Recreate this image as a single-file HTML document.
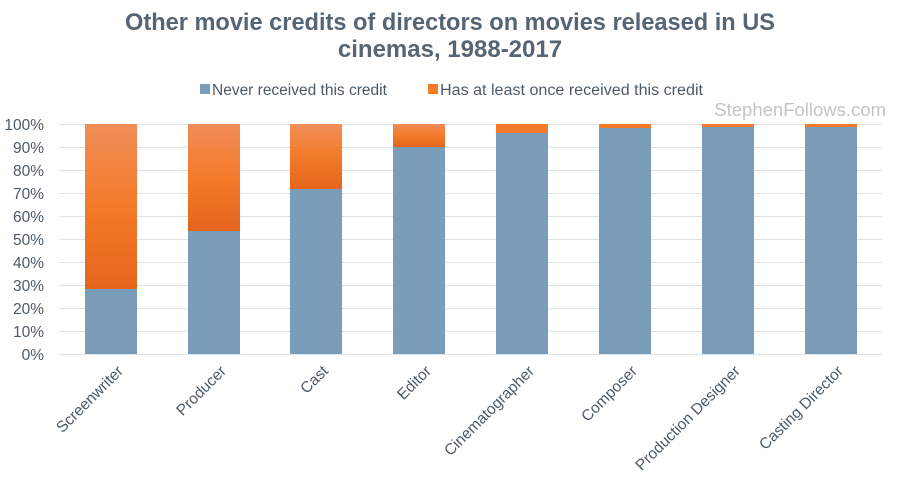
<!DOCTYPE html>
<html><head><meta charset="utf-8"><style>
body{margin:0;background:#fff;}
svg{display:block;font-family:"Liberation Sans",sans-serif;}
</style></head><body>
<svg width="900" height="490" viewBox="0 0 900 490">
<defs>
<linearGradient id="og" x1="0" y1="0" x2="0" y2="1">
<stop offset="0" stop-color="#f08d58"/><stop offset="0.5" stop-color="#f47b2a"/><stop offset="1" stop-color="#e4661c"/>
</linearGradient>
</defs>
<text x="450" y="30" text-anchor="middle" font-size="24" font-weight="bold" fill="#566573" textLength="650" lengthAdjust="spacingAndGlyphs">Other movie credits of directors on movies released in US</text>
<text x="450" y="57" text-anchor="middle" font-size="24" font-weight="bold" fill="#566573">cinemas, 1988-2017</text>
<rect x="200" y="84" width="10" height="10" fill="#7a9dba"/>
<text x="212" y="95" font-size="15.5" fill="#4b5a68">Never received this credit</text>
<rect x="428" y="84" width="10" height="10" fill="#f47b2a"/>
<text x="440" y="95" font-size="15.5" fill="#4b5a68" textLength="263" lengthAdjust="spacingAndGlyphs">Has at least once received this credit</text>
<text x="886" y="116" text-anchor="end" font-size="18.5" fill="#c4c4c4">StephenFollows.com</text>
<g stroke="#dde1e8" stroke-width="1">
<line x1="59" x2="882" y1="124.5" y2="124.5"/><line x1="59" x2="882" y1="147.5" y2="147.5"/>
<line x1="59" x2="882" y1="170.5" y2="170.5"/><line x1="59" x2="882" y1="193.5" y2="193.5"/>
<line x1="59" x2="882" y1="216.5" y2="216.5"/><line x1="59" x2="882" y1="239.5" y2="239.5"/>
<line x1="59" x2="882" y1="262.5" y2="262.5"/><line x1="59" x2="882" y1="285.5" y2="285.5"/>
<line x1="59" x2="882" y1="308.5" y2="308.5"/><line x1="59" x2="882" y1="331.5" y2="331.5"/>
<line x1="59" x2="882" y1="354.5" y2="354.5"/>
</g>
<g font-size="15.5" fill="#4b5a68" text-anchor="end">
<text x="44" y="130">100%</text><text x="44" y="153">90%</text><text x="44" y="176">80%</text>
<text x="44" y="199">70%</text><text x="44" y="222">60%</text><text x="44" y="245">50%</text>
<text x="44" y="268">40%</text><text x="44" y="291">30%</text><text x="44" y="314">20%</text>
<text x="44" y="337">10%</text><text x="44" y="360">0%</text>
</g>
<g>
<rect x="85" y="124" width="52" height="165" fill="url(#og)"/><rect x="85" y="289" width="52" height="65" fill="#7a9dba"/>
<rect x="188" y="124" width="52" height="107" fill="url(#og)"/><rect x="188" y="231" width="52" height="123" fill="#7a9dba"/>
<rect x="290" y="124" width="52" height="65" fill="url(#og)"/><rect x="290" y="189" width="52" height="165" fill="#7a9dba"/>
<rect x="393" y="124" width="52" height="23" fill="url(#og)"/><rect x="393" y="147" width="52" height="207" fill="#7a9dba"/>
<rect x="496" y="124" width="52" height="9" fill="#f47b2a"/><rect x="496" y="133" width="52" height="221" fill="#7a9dba"/>
<rect x="599" y="124" width="52" height="4" fill="#f47b2a"/><rect x="599" y="128" width="52" height="226" fill="#7a9dba"/>
<rect x="702" y="124" width="52" height="3" fill="#f47b2a"/><rect x="702" y="127" width="52" height="227" fill="#7a9dba"/>
<rect x="805" y="124" width="52" height="3" fill="#f47b2a"/><rect x="805" y="127" width="52" height="227" fill="#7a9dba"/>
</g>
<g font-size="15.5" fill="#4b5a68" text-anchor="end">
<text transform="translate(124,372) rotate(-45)">Screenwriter</text>
<text transform="translate(227,372) rotate(-45)">Producer</text>
<text transform="translate(329,372) rotate(-45)">Cast</text>
<text transform="translate(432,372) rotate(-45)">Editor</text>
<text transform="translate(535,372) rotate(-45)">Cinematographer</text>
<text transform="translate(638,372) rotate(-45)">Composer</text>
<text transform="translate(741,372) rotate(-45)">Production Designer</text>
<text transform="translate(844,372) rotate(-45)">Casting Director</text>
</g>
</svg>
</body></html>
